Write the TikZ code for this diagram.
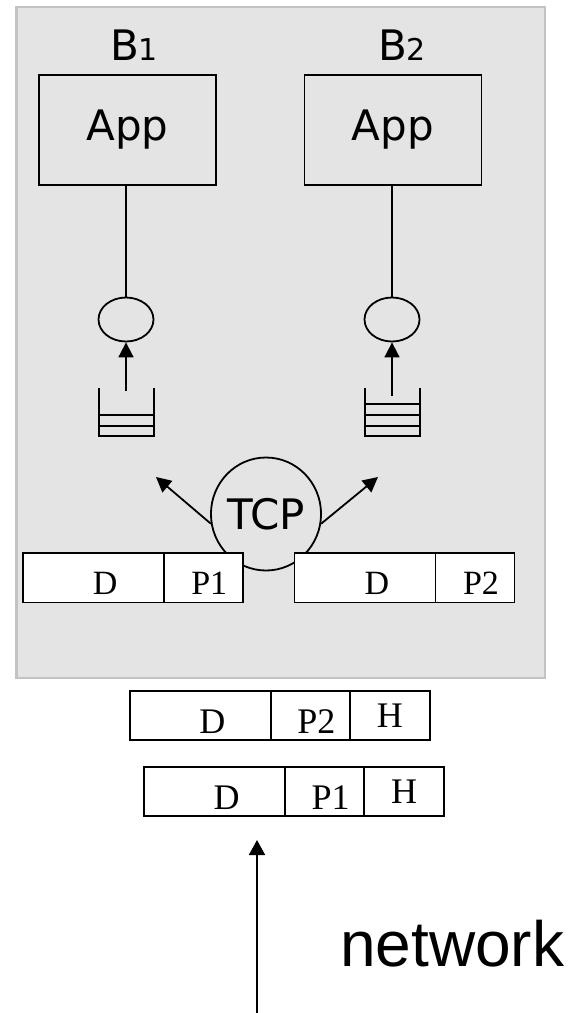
\documentclass[tikz,border=0pt]{standalone}
\usepackage{fontspec}
\usepackage{xcolor}
\usetikzlibrary{arrows.meta,positioning,shapes.geometric}
\setmainfont{Liberation Serif}
\newfontfamily\handfont{DejaVu Sans}
\newfontfamily\netfont{Liberation Sans}
\definecolor{hostbg}{HTML}{E4E4E4}
\definecolor{hostrule}{HTML}{C3C3C3}
\tikzset{
  base/.style={draw=black, line width=1.8pt},
  hostframe/.style={fill=hostbg, draw=hostrule, line width=2.5pt},
  hand/.style={font=\handfont\fontsize{42}{50}\selectfont},
  appbox/.style={base, hand, minimum width=177pt, minimum height=110pt, inner sep=0pt},
  sock/.style={base, ellipse, minimum width=55pt, minimum height=44pt, inner sep=0pt},
  tcpnode/.style={base, hand, ellipse, minimum width=102.5pt, minimum height=113pt, inner sep=0pt},
  tip/.style={base, -{Triangle[length=15pt,width=15pt]}},
  cell/.style={draw=black, line width=1.8pt, fill=white, outer sep=0pt, inner sep=0pt,
    minimum height=49.5pt, font=\fontsize{34}{40}\selectfont},
  dcell/.style={cell, minimum width=141pt, text height=34pt, execute at begin node={\hspace*{24pt}}},
  pcell/.style={cell, minimum width=79pt, text height=34pt, execute at begin node={\hspace*{12pt}}},
  hcell/.style={cell, minimum width=80pt},
  low/.style={font=\fontsize{36}{43}\selectfont},
}
\begin{document}
\begin{tikzpicture}[x=1pt, y=-1pt]
  \useasboundingbox (0,0) rectangle (569,1013);
  % receiving host
  \draw[hostframe] (16.5,7) rectangle (545,678);

  % two applications, each with its socket
  \node[hand, anchor=base] (b1) at (134,60) {B\fontsize{30}{32}\selectfont 1};
  \node[hand, anchor=base] (b2) at (402,60) {B\fontsize{30}{32}\selectfont 2};
  \node[appbox] (app1) at (127.5,130) {App};
  \node[appbox] (app2) at (393,130) {App};
  \node[sock] (sock1) at (126,319.5) {};
  \node[sock] (sock2) at (392,319.5) {};
  \draw[base] (app1.south -| sock1.north) -- (sock1.north);
  \draw[base] (app2.south -| sock2.north) -- (sock2.north);

  % socket queues
  \draw[base] (99,388) -- (99,436) -- (154,436) -- (154,388);
  \foreach \y in {415,426} \draw[base] (99,\y) -- (154,\y);
  \draw[base] (365,388) -- (365,436) -- (420,436) -- (420,388);
  \foreach \y in {404,415,426} \draw[base] (365,\y) -- (420,\y);
  \coordinate (q1) at (126,391);
  \coordinate (q2) at (392,396);
  \draw[tip] (q1) -- (sock1.south);
  \draw[tip] (q2) -- (sock2.south);

  % demultiplexing
  \node[tcpnode] (tcp) at (266,514) {TCP};
  \coordinate (to1) at (156,477);
  \coordinate (to2) at (378,477);
  \draw[tip] (tcp.190) -- (to1);
  \draw[tip] (tcp.-10) -- (to2);

  % segments handed to the sockets
  \node[dcell] (d1) at (93.25,577.75) {D};
  \node[pcell, right=0pt of d1] (p1) {P1};
  \node[dcell] (d2) at (365,577.75) {D};
  \node[pcell, right=0pt of d2] (p2) {P2};

  % arriving datagrams
  \node[dcell, low, text height=36pt] (d3) at (200.35,715.5) {D};
  \node[pcell, low, text height=36pt, right=0pt of d3] (p3) {P2};
  \node[hcell, low, right=0pt of p3] (h3) {H};
  \node[dcell, low, text height=36pt] (d4) at (214.65,791.5) {D};
  \node[pcell, low, text height=36pt, right=0pt of d4] (p4) {P1};
  \node[hcell, low, right=0pt of p4] (h4) {H};

  \coordinate (netin) at (257,1013);
  \coordinate (netout) at (257,840);
  \draw[base, -{Triangle[length=15pt,width=16pt]}] (netin) -- (netout);
  \node[anchor=base west, inner sep=0pt, font=\netfont\fontsize{64}{70}\selectfont] (net) at (340,966) {network};
\end{tikzpicture}
\end{document}
